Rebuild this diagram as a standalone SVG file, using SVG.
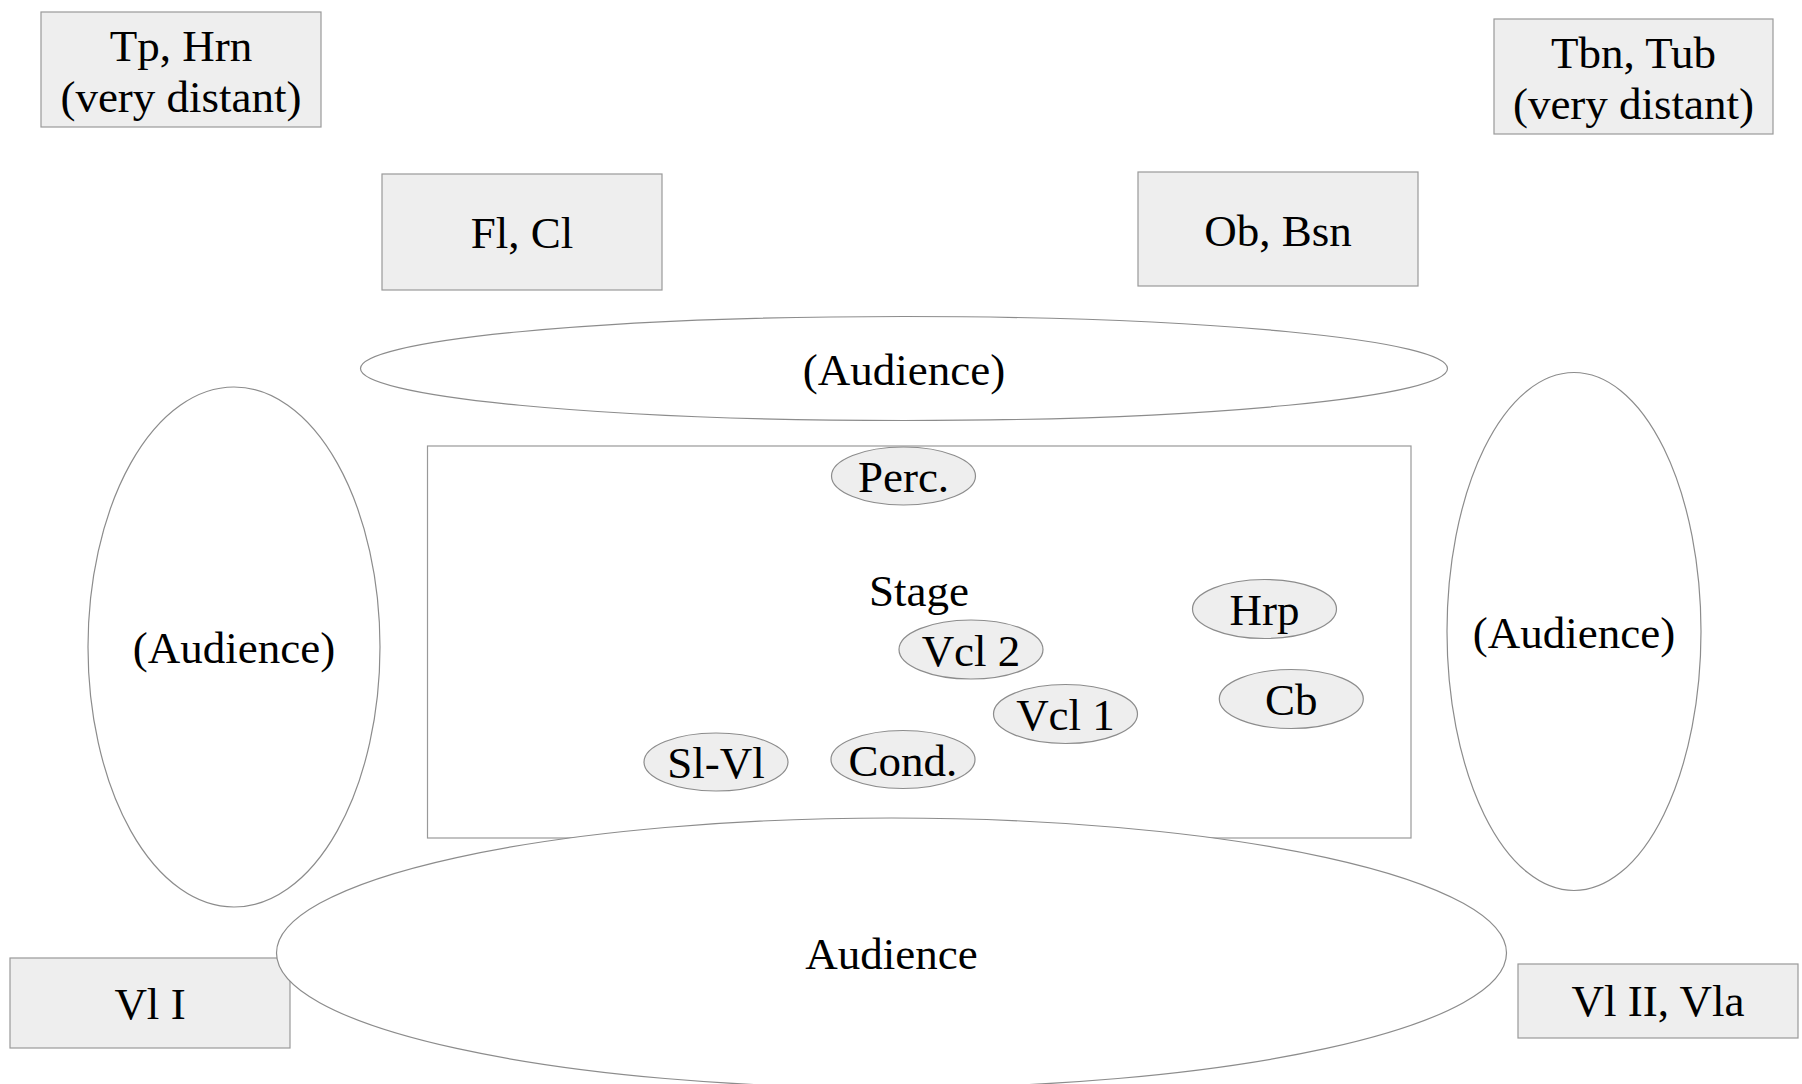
<svg xmlns="http://www.w3.org/2000/svg" width="1802" height="1084" viewBox="0 0 1802 1084">
<style>
text{font-family:"Liberation Serif","Times New Roman",serif;font-size:45px;fill:#000;text-anchor:middle}
.box{fill:#eeeeee;stroke:#999999;stroke-width:1.2}
.aud{fill:#ffffff;stroke:#8c8c8c;stroke-width:1.2}
.stage{fill:#ffffff;stroke:#999999;stroke-width:1.2}
.inst{fill:#eeeeee;stroke:#8c8c8c;stroke-width:1.2}
</style>
<rect width="1802" height="1084" fill="#ffffff"/>
<g id="tp-hrn"><rect class="box" x="41" y="12" width="280" height="115"/><text x="181" y="61">Tp, Hrn</text><text x="181" y="112">(very distant)</text></g>
<g id="tbn-tub"><rect class="box" x="1494" y="19" width="279" height="115"/><text x="1633.5" y="68">Tbn, Tub</text><text x="1633.5" y="119">(very distant)</text></g>
<g id="fl-cl"><rect class="box" x="382" y="174" width="280" height="116"/><text x="522" y="248">Fl, Cl</text></g>
<g id="ob-bsn"><rect class="box" x="1138" y="172" width="280" height="114"/><text x="1278" y="246">Ob, Bsn</text></g>
<g id="audience-top"><ellipse class="aud" cx="904" cy="368.5" rx="543.5" ry="52"/><text x="904" y="385">(Audience)</text></g>
<g id="audience-left"><ellipse class="aud" cx="234" cy="647" rx="146" ry="260"/><text x="234" y="663">(Audience)</text></g>
<g id="audience-right"><ellipse class="aud" cx="1574" cy="631.5" rx="127" ry="259"/><text x="1574" y="647.5">(Audience)</text></g>
<g id="vl1"><rect class="box" x="10" y="958" width="280" height="90"/><text x="150" y="1019">Vl I</text></g>
<g id="vl2-vla"><rect class="box" x="1518" y="964" width="280" height="74"/><text x="1658" y="1016">Vl II, Vla</text></g>
<g id="stage"><rect class="stage" x="427.5" y="446" width="983.5" height="392"/><text x="919" y="606">Stage</text></g>
<g id="audience-bottom"><ellipse class="aud" cx="891.5" cy="953" rx="615" ry="135"/><text x="891.5" y="969">Audience</text></g>
<g id="perc"><ellipse class="inst" cx="903.5" cy="476" rx="72" ry="29"/><text x="903.5" y="492">Perc.</text></g>
<g id="hrp"><ellipse class="inst" cx="1264.5" cy="609" rx="72" ry="29.5"/><text x="1264.5" y="625">Hrp</text></g>
<g id="vcl2"><ellipse class="inst" cx="971" cy="649.5" rx="72" ry="29.5"/><text x="971" y="665.5">Vcl 2</text></g>
<g id="vcl1"><ellipse class="inst" cx="1065.5" cy="714" rx="72" ry="29.5"/><text x="1065.5" y="730">Vcl 1</text></g>
<g id="cb"><ellipse class="inst" cx="1291.3" cy="699" rx="72" ry="29.5"/><text x="1291.3" y="715">Cb</text></g>
<g id="sl-vl"><ellipse class="inst" cx="716" cy="762" rx="72" ry="29"/><text x="716" y="778">Sl-Vl</text></g>
<g id="cond"><ellipse class="inst" cx="903" cy="759.5" rx="72" ry="29"/><text x="903" y="775.5">Cond.</text></g>
<g id="connectors"></g>
</svg>
